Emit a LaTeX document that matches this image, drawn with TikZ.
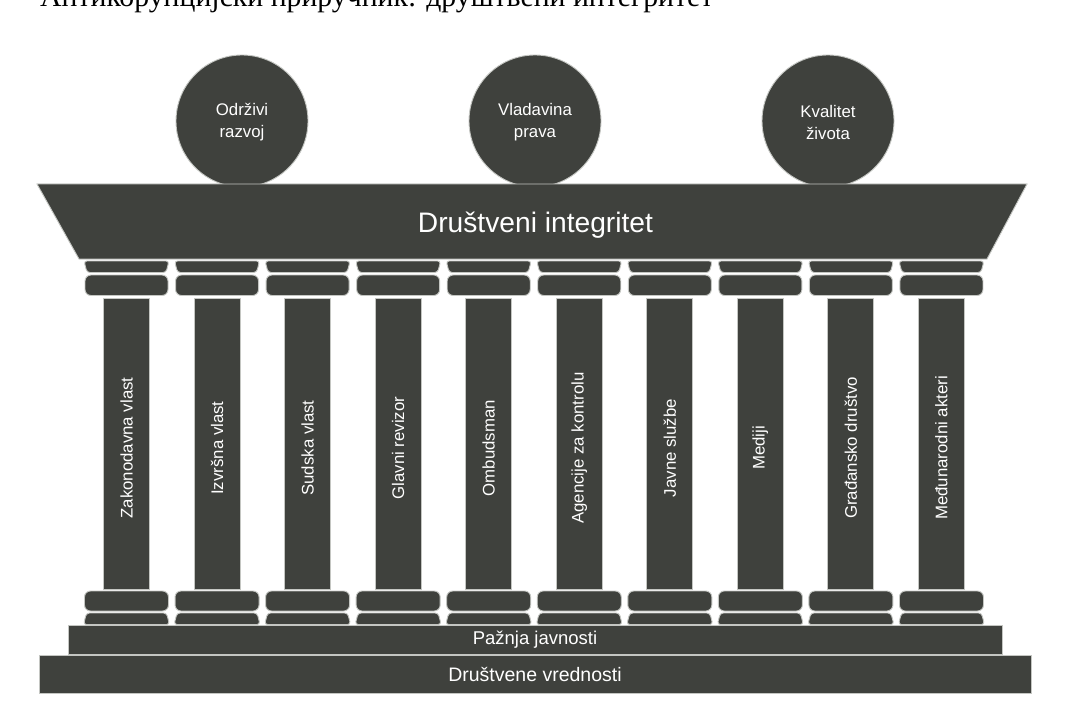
\documentclass[tikz,border=0pt]{standalone}
\usepackage{fontspec}
\usepackage{graphicx}
\setmainfont{Liberation Sans}
\newfontfamily\headfont{Liberation Serif}
\definecolor{stonecol}{RGB}{63,65,61}
\definecolor{edgecol}{RGB}{196,198,194}
\begin{document}
\begin{tikzpicture}[x=1pt,y=-1pt,
  stone/.style={fill=stonecol,draw=edgecol,line width=0.9pt},
  lbl/.style={text=white,inner sep=0pt,align=center,font=\fontsize{16.8pt}{22pt}\selectfont},
  biglbl/.style={lbl,font=\fontsize{28.2pt}{30pt}\selectfont},
  steplbl/.style={lbl,font=\fontsize{18.5pt}{20pt}\selectfont},
  basellbl/.style={lbl,font=\fontsize{19.5pt}{21pt}\selectfont}]
\clip (0,0) rectangle (1067,714);
\fill[white] (0,0) rectangle (1067,714);
% header (cut by the top edge)
\node[anchor=base west,inner sep=0pt] (head) at (40,7)
  {\resizebox{673pt}{!}{\headfont Антикорупцијски приручник: друштвени интегритет}};
% circles
\draw[stone] (242,121) circle (66pt);
\draw[stone] (535,121) circle (66pt);
\draw[stone] (828,121) circle (66pt);
\node[lbl] (c1) at (242,122) {Održivi\\razvoj};
\node[lbl] (c2) at (535,122) {Vladavina\\prava};
\node[lbl] (c3) at (828,122) {Kvalitet\\života};
% entablature
\draw[stone] (37,184) -- (1027,184) -- (987,259) -- (79,259) -- cycle;
\node[biglbl,anchor=base] (ent) at (535.5,232) {Društveni integritet};
% columns
\foreach \lab [count=\i from 0] in {Zakonodavna vlast,Izvršna vlast,Sudska vlast,Glavni revizor,Ombudsman,Agencije za kontrolu,Javne službe,Mediji,Građansko društvo,Međunarodni akteri}{
  \pgfmathsetmacro{\c}{126.5+90.55*\i}
  % capital
  \draw[stone,rounded corners=3pt] (\c-42.5,261) -- (\c+42.5,261) -- (\c+39.5,272.5) -- (\c-39.5,272.5) -- cycle;
  \draw[stone,rounded corners=6pt] (\c-41.5,275) rectangle (\c+41.5,295.5);
  % shaft
  \draw[stone] (\c-23,298) rectangle (\c+23,589);
  % base
  \draw[stone,rounded corners=6pt] (\c-42,591) rectangle (\c+42,611);
  \draw[stone,rounded corners=3pt] (\c-40,613) -- (\c+40,613) -- (\c+43,624.5) -- (\c-43,624.5) -- cycle;
  \node[lbl,rotate=90] (col\i) at (\c,448) {\lab};
}
% steps
\draw[stone] (68,625) rectangle (1002,654);
\node[steplbl] (pj) at (535,640) {Pažnja javnosti};
\draw[stone] (39,655) rectangle (1031,693);
\node[basellbl] (dv) at (535,674.5) {Društvene vrednosti};
\end{tikzpicture}
\end{document}
